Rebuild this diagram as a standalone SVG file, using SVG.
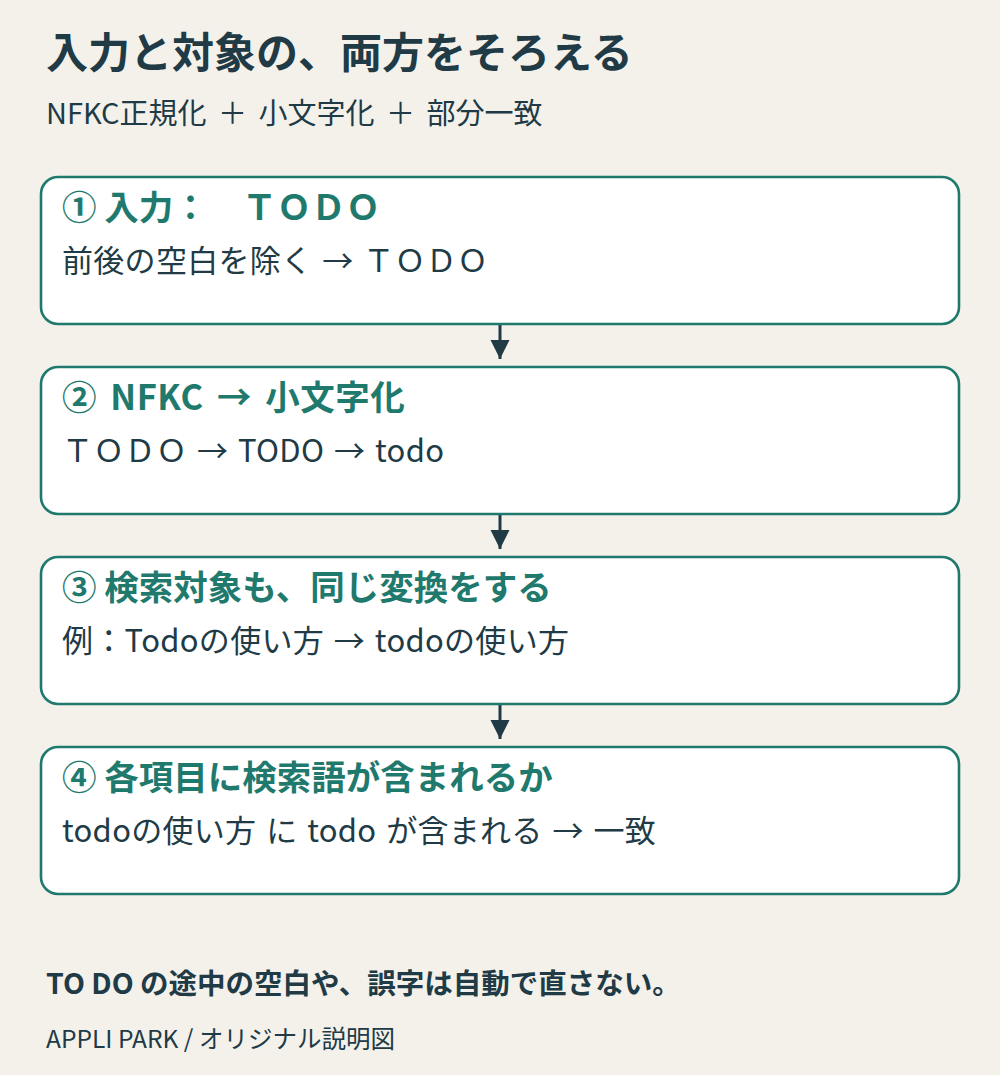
<svg xmlns="http://www.w3.org/2000/svg" width="1000" height="1075" viewBox="0 0 1000 1075">
<style>
text{font-family:"Noto Sans CJK JP","Noto Sans",sans-serif;}
.title{font-size:42px;font-weight:700;fill:#203a46;}
.sub{font-size:29px;fill:#203a46;word-spacing:5px;}
.box{fill:#ffffff;stroke:#1f7a6d;stroke-width:2.6;}
.bt{font-size:34.5px;font-weight:700;fill:#1f7a6d;}
.wide{word-spacing:5px;letter-spacing:0.5px;}
.bb{font-size:31px;fill:#203a46;letter-spacing:0.3px;word-spacing:2.5px;}
.note{font-size:28.5px;font-weight:700;fill:#203a46;}
.credit{font-size:24.5px;fill:#203a46;}
.conn{stroke:#203a46;stroke-width:3;fill:none;}
</style>
<defs>
<marker id="ah" viewBox="0 0 10 10" refX="10" refY="5" markerWidth="6.5" markerHeight="6.5" orient="auto" markerUnits="strokeWidth">
<path d="M0,0 L10,5 L0,10 z" fill="#203a46"/>
</marker>
</defs>
<rect width="1000" height="1075" fill="#f4f1eb"/>
<text class="title" x="46" y="68">入力と対象の、両方をそろえる</text>
<text class="sub" x="46" y="124">NFKC正規化 ＋ 小文字化 ＋ 部分一致</text>
<g id="connectors">
<line class="conn" x1="500" y1="325" x2="500" y2="359" marker-end="url(#ah)"/>
<line class="conn" x1="500" y1="515" x2="500" y2="549" marker-end="url(#ah)"/>
<line class="conn" x1="500" y1="705" x2="500" y2="739" marker-end="url(#ah)"/>
</g>
<g id="step1">
<rect class="box" x="41" y="177" width="918" height="147" rx="17"/>
<text class="bt" x="62" y="220">① 入力：　ＴＯＤＯ</text>
<text class="bb" x="62" y="272">前後の空白を除く → ＴＯＤＯ</text>
</g>
<g id="step2">
<rect class="box" x="41" y="367" width="918" height="147" rx="17"/>
<text class="bt wide" x="62" y="410">② NFKC → 小文字化</text>
<text class="bb" x="62" y="462">ＴＯＤＯ → TODO → todo</text>
</g>
<g id="step3">
<rect class="box" x="41" y="557" width="918" height="147" rx="17"/>
<text class="bt" x="62" y="600">③ 検索対象も、同じ変換をする</text>
<text class="bb" x="62" y="652">例：Todoの使い方 → todoの使い方</text>
</g>
<g id="step4">
<rect class="box" x="41" y="747" width="918" height="147" rx="17"/>
<text class="bt" x="62" y="790">④ 各項目に検索語が含まれるか</text>
<text class="bb" x="62" y="842">todoの使い方 に todo が含まれる → 一致</text>
</g>
<text class="note" x="46" y="994">TO DO の途中の空白や、誤字は自動で直さない。</text>
<text class="credit" x="46" y="1048">APPLI PARK / オリジナル説明図</text>
</svg>
